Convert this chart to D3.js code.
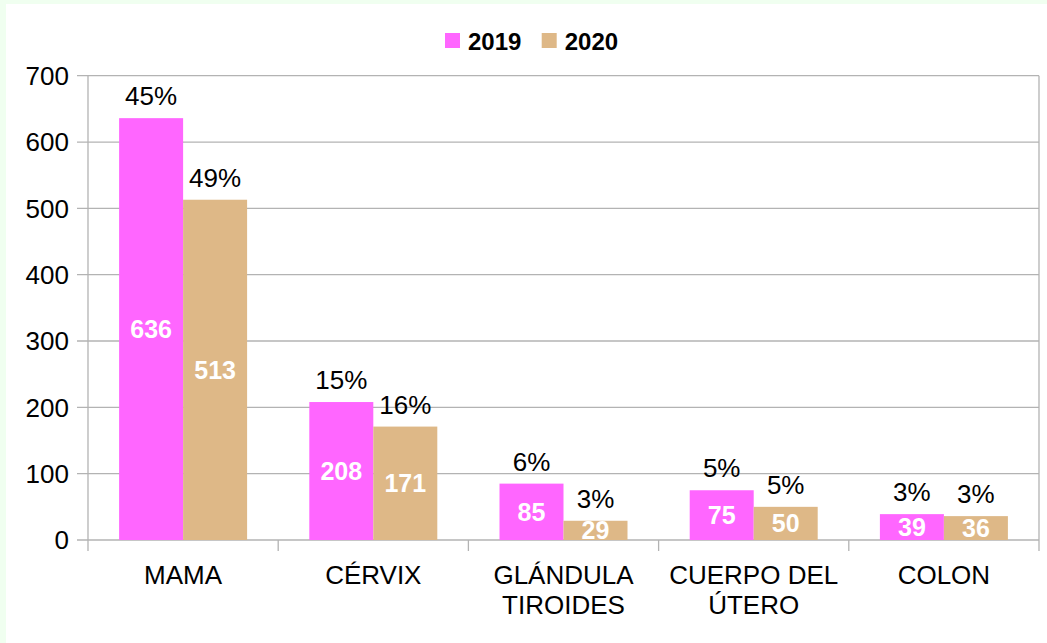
<!DOCTYPE html>
<html>
<head>
<meta charset="utf-8">
<script src="https://cdn.jsdelivr.net/npm/d3@7"></script>
<style>
  html, body { margin: 0; padding: 0; background: #f0fff0; }
  svg { display: block; }
  text { font-family: "Liberation Sans", Arial, sans-serif; }
</style>
</head>
<body>
<svg id="chart" width="1047" height="643"></svg>
<script>
const categories = ["MAMA", "CÉRVIX", "GLÁNDULA TIROIDES", "CUERPO DEL ÚTERO", "COLON"];
const seriesNames = ["2019", "2020"];
const values2019 = [636, 208, 85, 75, 39];
const values2020 = [513, 171, 29, 50, 36];
const pct2019 = ["45%", "15%", "6%", "5%", "3%"];
const pct2020 = ["49%", "16%", "3%", "5%", "3%"];
const yTicks = [0, 100, 200, 300, 400, 500, 600, 700];
const colors = ["#ff66ff", "#deb887"];

const W = 1047, H = 643;
const margin = { left: 88, right: 8, top: 75.7, bottom: 103 };
const svg = d3.select("#chart");

svg.append("rect").attr("x", 6).attr("y", 4).attr("width", W - 6).attr("height", H - 4).attr("fill", "#ffffff");

const x0 = d3.scaleBand().domain(categories).range([margin.left, W - margin.right]).paddingInner(0).paddingOuter(0);
const innerPad = (x0.bandwidth() - 128) / 2;
const x1 = d3.scaleBand().domain(seriesNames).range([innerPad, x0.bandwidth() - innerPad]).padding(0);
const y = d3.scaleLinear().domain([0, 700]).range([H - margin.bottom, margin.top]);

const gridColor = "#b3b3b3";

// gridlines
svg.append("g").selectAll("line").data(yTicks).join("line")
  .attr("x1", margin.left - 11).attr("x2", W - margin.right)
  .attr("y1", d => y(d)).attr("y2", d => y(d))
  .attr("stroke", gridColor).attr("stroke-width", 1.3);

// y axis line and right border
[margin.left, W - margin.right].forEach(xx => {
  svg.append("line").attr("x1", xx).attr("x2", xx)
    .attr("y1", y(700)).attr("y2", y(0) + 11)
    .attr("stroke", gridColor).attr("stroke-width", 1.3);
});
// category ticks
const bounds = categories.map(c => x0(c)).slice(1);
svg.append("g").selectAll("line").data(bounds).join("line")
  .attr("x1", d => d).attr("x2", d => d)
  .attr("y1", y(0)).attr("y2", y(0) + 11)
  .attr("stroke", gridColor).attr("stroke-width", 1.3);

// y tick labels
svg.append("g").selectAll("text").data(yTicks).join("text")
  .attr("x", 69).attr("y", d => y(d)).attr("dy", "0.36em")
  .attr("text-anchor", "end").attr("font-size", 26).attr("fill", "#000")
  .text(d => d);

// bars
const data = categories.map((c, i) => ({
  cat: c,
  vals: [
    { s: seriesNames[0], v: values2019[i], p: pct2019[i], ci: 0 },
    { s: seriesNames[1], v: values2020[i], p: pct2020[i], ci: 1 }
  ]
}));

const groups = svg.append("g").selectAll("g").data(data).join("g")
  .attr("transform", d => `translate(${x0(d.cat)},0)`);

groups.selectAll("rect").data(d => d.vals).join("rect")
  .attr("x", d => x1(d.s)).attr("width", x1.bandwidth())
  .attr("y", d => y(d.v)).attr("height", d => y(0) - y(d.v))
  .attr("fill", d => colors[d.ci]);

// value labels
groups.selectAll("text.val").data(d => d.vals).join("text").attr("class", "val")
  .attr("x", d => x1(d.s) + x1.bandwidth() / 2)
  .attr("y", d => (y(d.v) + y(0)) / 2).attr("dy", "0.36em")
  .attr("text-anchor", "middle").attr("font-size", 25).attr("font-weight", "bold")
  .attr("fill", "#ffffff").text(d => d.v);

// percentage labels
groups.selectAll("text.pct").data(d => d.vals).join("text").attr("class", "pct")
  .attr("x", d => x1(d.s) + x1.bandwidth() / 2)
  .attr("y", d => y(d.v) - 13)
  .attr("text-anchor", "middle").attr("font-size", 26).attr("fill", "#000")
  .text(d => d.p);

// category labels with wrapping
function wrapLines(str, maxW, fontSize) {
  const words = str.split(" ");
  const tmp = svg.append("text").attr("font-size", fontSize);
  const lines = [];
  let cur = "";
  words.forEach(w => {
    const test = cur ? cur + " " + w : w;
    tmp.text(test);
    if (tmp.node().getComputedTextLength() > maxW && cur) {
      lines.push(cur); cur = w;
    } else cur = test;
  });
  if (cur) lines.push(cur);
  tmp.remove();
  return lines;
}
categories.forEach(c => {
  const lines = wrapLines(c, x0.bandwidth() - 6, 26);
  const t = svg.append("text").attr("text-anchor", "middle").attr("font-size", 26).attr("fill", "#000");
  lines.forEach((ln, i) => {
    t.append("tspan").attr("x", x0(c) + x0.bandwidth() / 2).attr("y", 584 + i * 30).text(ln);
  });
});

// legend
const legend = svg.append("g");
const legX = [445, 541.7];
seriesNames.forEach((s, i) => {
  legend.append("rect").attr("x", legX[i]).attr("y", 33).attr("width", 15).attr("height", 15).attr("fill", colors[i]);
  legend.append("text").attr("x", legX[i] + 23).attr("y", 49.5)
    .attr("font-size", 24).attr("font-weight", "bold").attr("fill", "#000").text(s);
});
</script>
</body>
</html>
